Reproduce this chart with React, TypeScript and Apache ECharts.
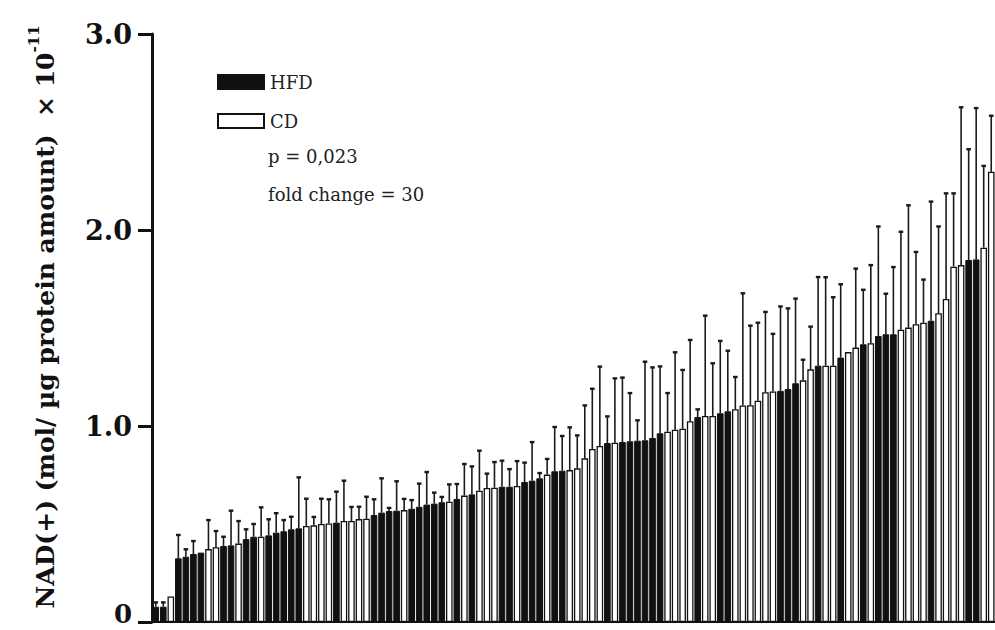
import React, { useEffect, useRef } from "react";
import * as echarts from "echarts";

// Sorted sample values (×10^-11 mol / µg protein)
const values: number[] = [
  0.078, 0.078, 0.13, 0.325, 0.333, 0.347, 0.354, 0.372, 0.381, 0.388,
  0.391, 0.4, 0.423, 0.435, 0.435, 0.442, 0.456, 0.463, 0.473, 0.478,
  0.49, 0.493, 0.5, 0.503, 0.507, 0.515, 0.515, 0.525, 0.527, 0.546,
  0.558, 0.566, 0.568, 0.571, 0.578, 0.588, 0.599, 0.604, 0.611, 0.614,
  0.628, 0.645, 0.651, 0.67, 0.684, 0.685, 0.69, 0.69, 0.694, 0.714,
  0.721, 0.733, 0.752, 0.769, 0.772, 0.775, 0.784, 0.835, 0.883, 0.898,
  0.913, 0.915, 0.918, 0.922, 0.925, 0.927, 0.939, 0.963, 0.971, 0.981,
  0.986, 1.024, 1.046, 1.051, 1.051, 1.065, 1.075, 1.086, 1.105, 1.106,
  1.129, 1.172, 1.176, 1.179, 1.189, 1.218, 1.233, 1.289, 1.308, 1.308,
  1.308, 1.349, 1.377, 1.4, 1.417, 1.422, 1.459, 1.468, 1.468, 1.491,
  1.502, 1.519, 1.527, 1.537, 1.575, 1.648, 1.813, 1.821, 1.847, 1.85,
  1.91, 2.297,
];

// Upper end of each error bar (null = none visible)
const errorTops: (number | null)[] = [
  0.1, 0.1, null, 0.444, 0.371, 0.413, null, 0.52, 0.464, 0.435,
  0.568, 0.515, 0.473, 0.5, 0.585, 0.524, 0.555, 0.52, 0.537, 0.738,
  0.629, 0.536, 0.629, 0.626, 0.665, 0.721, 0.587, 0.588, 0.639, 0.626,
  0.733, 0.582, 0.718, 0.628, 0.622, 0.706, 0.765, 0.66, 0.638, 0.702,
  0.704, 0.806, 0.794, 0.874, 0.757, 0.816, 0.823, 0.78, 0.821, 0.813,
  0.918, 0.76, 0.832, 0.995, 0.949, 0.993, 0.952, 1.105, 1.19, 1.303,
  1.049, 1.243, 1.247, 1.168, 1.029, 1.328, 1.299, 1.304, 1.168, 1.376,
  1.286, 1.439, 1.085, 1.563, 1.32, 1.434, 1.384, 1.25, 1.677, 1.512,
  1.527, 1.582, 1.47, 1.61, 1.6, 1.65, 1.338, 1.507, 1.76, 1.759,
  1.657, 1.723, null, 1.803, 1.695, 1.821, 2.018, 1.675, 1.811, 1.991,
  2.126, 1.888, 1.747, 2.145, 2.018, 2.187, 2.187, 2.626, 2.412, 2.622,
  2.327, 2.583,
];

// Diet group of each sample: H = HFD, C = CD
const groups: string[] = (
  "HHCHHHHCCHHCHHCHHHHHCCCCHCCCCHHHHCHHHHHCHCHCCCHHCHHHCHHC" +
  "CCCCHCHHHHHHCCCCHCCHHCCCCCCHHHCCHCCHCCHCHHHCCCCHCCCCHHCC"
).split("");

const categories: string[] = values.map((_, i) => String(i + 1));
const yTicks: number[] = [0, 1, 2, 3];

const seriesNames = { hfd: "HFD", cd: "CD" };
const statLines: string[] = ["p = 0,023", "fold change = 30"];

export default function App() {
  const ref = useRef<HTMLDivElement>(null);

  useEffect(() => {
    document.body.style.margin = "0";
    if (!ref.current) return;
    const chart = echarts.init(ref.current, null, { renderer: "svg" });

    const hfdData = values.map((v, i) => (groups[i] === "H" ? v : "-"));
    const cdData = values.map((v, i) => (groups[i] === "C" ? v : "-"));
    const errData: number[][] = [];
    values.forEach((v, i) => {
      const e = errorTops[i];
      if (e != null) errData.push([i, v, e]);
    });

    const serif = "DejaVu Serif";

    chart.setOption({
      animation: false,
      backgroundColor: "#ffffff",
      grid: {
        left: 152,
        right: 0,
        top: 34,
        bottom: 8,
        containLabel: false,
        outerBoundsMode: "none",
      },
      legend: {
        data: [seriesNames.hfd, seriesNames.cd],
        orient: "vertical",
        left: 212,
        top: 68,
        itemWidth: 46,
        itemHeight: 14,
        itemGap: 21,
        icon: "rect",
        selectedMode: false,
        textStyle: {
          fontFamily: serif,
          fontSize: 18,
          color: "#222",
          padding: [0, 0, 0, 1],
        },
      },
      graphic: statLines.map((t, k) => ({
        type: "text",
        left: 268,
        top: 147 + k * 38,
        style: {
          text: t,
          fontFamily: serif,
          fontSize: 18,
          fill: "#222",
        },
      })),
      xAxis: {
        type: "category",
        data: categories,
        axisLine: { show: true, lineStyle: { color: "#111", width: 2 } },
        axisTick: { show: false },
        axisLabel: { show: false },
        splitLine: { show: false },
      },
      yAxis: {
        type: "value",
        min: yTicks[0],
        max: yTicks[yTicks.length - 1],
        interval: 1,
        name: "{t|NAD(+) (mol/ µg protein amount)  × 10}{s|-11}",
        nameLocation: "middle",
        nameRotate: 90,
        nameGap: 94,
        nameTextStyle: {
          padding: [0, 0, 0, 22],
          rich: {
            t: {
              fontFamily: serif,
              fontWeight: "bold",
              fontSize: 25,
              color: "#111",
              lineHeight: 32,
              verticalAlign: "bottom",
            },
            s: {
              fontFamily: serif,
              fontWeight: "bold",
              fontSize: 15,
              color: "#111",
              lineHeight: 32,
              verticalAlign: "top",
              padding: [0, 0, 10, 0],
            },
          },
        },
        axisLine: { show: true, lineStyle: { color: "#111", width: 3 } },
        axisTick: { show: true, length: 14, lineStyle: { color: "#111", width: 3 } },
        axisLabel: {
          margin: 20,
          fontFamily: serif,
          fontWeight: "bold",
          fontSize: 27,
          color: "#111",
          formatter: (v: number) => (v === 0 ? "{z|0}" : v.toFixed(1)),
          rich: {
            z: {
              fontFamily: serif,
              fontWeight: "bold",
              fontSize: 26,
              color: "#111",
              lineHeight: 20,
              padding: [0, 0, 16, 0],
            },
          },
        },
        splitLine: { show: false },
      },
      series: [
        {
          name: seriesNames.hfd,
          type: "bar",
          data: hfdData,
          barGap: "-100%",
          barCategoryGap: "12%",
          itemStyle: { color: "#111", borderColor: "#111", borderWidth: 1 },
        },
        {
          name: seriesNames.cd,
          type: "bar",
          data: cdData,
          barGap: "-100%",
          barCategoryGap: "12%",
          itemStyle: { color: "#ffffff", borderColor: "#111", borderWidth: 1.3 },
        },
        {
          name: "error",
          type: "custom",
          z: 5,
          data: errData,
          encode: { x: 0, y: 2 },
          renderItem: (params: any, api: any) => {
            const i = api.value(0);
            const base = api.coord([i, api.value(1)]);
            const hi = api.coord([i, api.value(2)]);
            return {
              type: "group",
              children: [
                {
                  type: "line",
                  shape: { x1: base[0], y1: base[1], x2: hi[0], y2: hi[1] },
                  style: { stroke: "#1a1a1a", lineWidth: 1.6 },
                },
                {
                  type: "line",
                  shape: { x1: hi[0] - 2.3, y1: hi[1], x2: hi[0] + 2.3, y2: hi[1] },
                  style: { stroke: "#1a1a1a", lineWidth: 2.4 },
                },
              ],
            };
          },
        },
      ],
    });

    return () => chart.dispose();
  }, []);

  return <div ref={ref} style={{ width: 995, height: 630 }} />;
}
